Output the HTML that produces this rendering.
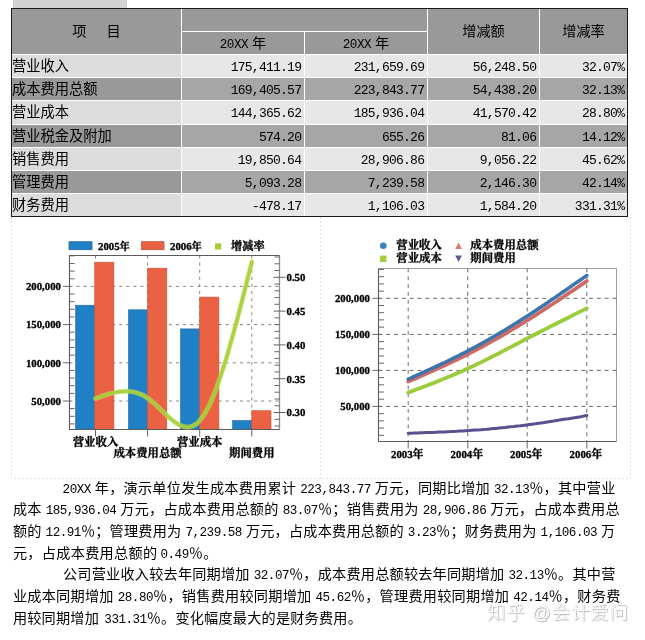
<!DOCTYPE html>
<html lang="zh"><head><meta charset="utf-8"><title>成本费用分析</title>
<style>
html,body{margin:0;padding:0;background:#fff;}
body{width:645px;height:640px;position:relative;overflow:hidden;font-family:"Liberation Mono","Noto Sans CJK SC",sans-serif;font-weight:400;color:#000;}
.abs{position:absolute;}
.c{position:absolute;box-sizing:border-box;white-space:nowrap;overflow:hidden;}
.lab{font-size:14.25px;line-height:22px;padding-left:0;padding-top:1px;text-align:left;}
.num{font-size:13px;letter-spacing:-0.75px;line-height:22px;text-align:right;padding-right:2.8px;padding-top:2px;}
.hd{font-size:14.2px;text-align:center;}
.p{position:absolute;font-size:14.15px;line-height:20px;height:20px;white-space:nowrap;}
.p .n{font-size:12.6px;}
.sp{display:inline-block;height:1px;}
svg text{font-family:"Liberation Serif","Noto Serif CJK SC",serif;font-weight:bold;fill:#000;stroke:#000;stroke-width:0.32px;}
</style></head><body>

<div class="abs" style="left:13px;top:0;width:114px;height:8px;background:#d3d3d3"></div>
<div class="abs" style="left:11px;top:8px;width:617px;height:209px;background:#1a1a1a"></div>
<div class="abs" style="left:12px;top:9px;width:615px;height:207px;background:#fff"></div>
<div class="c hd" style="left:12px;top:9px;width:169px;height:45px;background:#999999;line-height:46px">项<span style="display:inline-block;width:20px"></span>目</div>
<div class="c" style="left:182px;top:9px;width:245px;height:22px;background:#999999"></div>
<div class="c hd" style="left:182px;top:32px;width:122px;height:22px;background:#999999;line-height:24px"><span style="font-size:12.6px;letter-spacing:-0.45px">20XX</span><span class="sp" style="width:4px"></span>年</div>
<div class="c hd" style="left:305px;top:32px;width:122px;height:22px;background:#999999;line-height:24px"><span style="font-size:12.6px;letter-spacing:-0.45px">20XX</span><span class="sp" style="width:4px"></span>年</div>
<div class="c hd" style="left:428px;top:9px;width:111px;height:45px;background:#999999;line-height:47px">增减额</div>
<div class="c hd" style="left:540px;top:9px;width:87px;height:45px;background:#999999;line-height:47px">增减率</div>
<div class="c lab" style="left:12px;top:55px;width:169px;height:22px;background:#dcdcdc">营业收入</div>
<div class="c num" style="left:182px;top:55px;width:122px;height:22px;background:#e7e7e7">175,411.19</div>
<div class="c num" style="left:305px;top:55px;width:122px;height:22px;background:#e7e7e7">231,659.69</div>
<div class="c num" style="left:428px;top:55px;width:111px;height:22px;background:#e7e7e7">56,248.50</div>
<div class="c num" style="left:540px;top:55px;width:87px;height:22px;background:#e7e7e7">32.07%</div>
<div class="c lab" style="left:12px;top:78px;width:169px;height:22px;background:#999999">成本费用总额</div>
<div class="c num" style="left:182px;top:78px;width:122px;height:22px;background:#a6a6a6">169,405.57</div>
<div class="c num" style="left:305px;top:78px;width:122px;height:22px;background:#a6a6a6">223,843.77</div>
<div class="c num" style="left:428px;top:78px;width:111px;height:22px;background:#a6a6a6">54,438.20</div>
<div class="c num" style="left:540px;top:78px;width:87px;height:22px;background:#a6a6a6">32.13%</div>
<div class="c lab" style="left:12px;top:101px;width:169px;height:23px;background:#dcdcdc">营业成本</div>
<div class="c num" style="left:182px;top:101px;width:122px;height:23px;background:#e7e7e7">144,365.62</div>
<div class="c num" style="left:305px;top:101px;width:122px;height:23px;background:#e7e7e7">185,936.04</div>
<div class="c num" style="left:428px;top:101px;width:111px;height:23px;background:#e7e7e7">41,570.42</div>
<div class="c num" style="left:540px;top:101px;width:87px;height:23px;background:#e7e7e7">28.80%</div>
<div class="c lab" style="left:12px;top:125px;width:169px;height:22px;background:#999999">营业税金及附加</div>
<div class="c num" style="left:182px;top:125px;width:122px;height:22px;background:#a6a6a6">574.20</div>
<div class="c num" style="left:305px;top:125px;width:122px;height:22px;background:#a6a6a6">655.26</div>
<div class="c num" style="left:428px;top:125px;width:111px;height:22px;background:#a6a6a6">81.06</div>
<div class="c num" style="left:540px;top:125px;width:87px;height:22px;background:#a6a6a6">14.12%</div>
<div class="c lab" style="left:12px;top:148px;width:169px;height:22px;background:#dcdcdc">销售费用</div>
<div class="c num" style="left:182px;top:148px;width:122px;height:22px;background:#e7e7e7">19,850.64</div>
<div class="c num" style="left:305px;top:148px;width:122px;height:22px;background:#e7e7e7">28,906.86</div>
<div class="c num" style="left:428px;top:148px;width:111px;height:22px;background:#e7e7e7">9,056.22</div>
<div class="c num" style="left:540px;top:148px;width:87px;height:22px;background:#e7e7e7">45.62%</div>
<div class="c lab" style="left:12px;top:171px;width:169px;height:22px;background:#999999">管理费用</div>
<div class="c num" style="left:182px;top:171px;width:122px;height:22px;background:#a6a6a6">5,093.28</div>
<div class="c num" style="left:305px;top:171px;width:122px;height:22px;background:#a6a6a6">7,239.58</div>
<div class="c num" style="left:428px;top:171px;width:111px;height:22px;background:#a6a6a6">2,146.30</div>
<div class="c num" style="left:540px;top:171px;width:87px;height:22px;background:#a6a6a6">42.14%</div>
<div class="c lab" style="left:12px;top:194px;width:169px;height:22px;background:#dcdcdc">财务费用</div>
<div class="c num" style="left:182px;top:194px;width:122px;height:22px;background:#e7e7e7">-478.17</div>
<div class="c num" style="left:305px;top:194px;width:122px;height:22px;background:#e7e7e7">1,106.03</div>
<div class="c num" style="left:428px;top:194px;width:111px;height:22px;background:#e7e7e7">1,584.20</div>
<div class="c num" style="left:540px;top:194px;width:87px;height:22px;background:#e7e7e7">331.31%</div>
<svg class="abs" style="left:0;top:217px" width="645" height="265" viewBox="0 217 645 265">
<g fill="none" stroke="#e2e2e2" stroke-width="1" stroke-dasharray="2 2">
<path d="M11.5 217V478.5H630.5V217M320.5 217V478.5"/>
</g>
<g stroke="#858585" stroke-width="1" stroke-dasharray="3 4.1" fill="none">
<path d="M69.5 401.0H279.5"/>
<path d="M69.5 362.8H279.5"/>
<path d="M69.5 324.6H279.5"/>
<path d="M69.5 286.4H279.5"/>
<path d="M95.5 255.5V429.5"/>
<path d="M147.6 255.5V429.5"/>
<path d="M199.7 255.5V429.5"/>
<path d="M251.8 255.5V429.5"/>
</g>
<rect x="75.5" y="305.2" width="19.2" height="124.3" fill="#2080c6" stroke="#2a6aa0" stroke-width="0.6"/>
<rect x="94.7" y="262.2" width="19.2" height="167.3" fill="#ea6144" stroke="#c9523a" stroke-width="0.6"/>
<rect x="128.4" y="309.8" width="19.2" height="119.7" fill="#2080c6" stroke="#2a6aa0" stroke-width="0.6"/>
<rect x="147.6" y="268.2" width="19.2" height="161.3" fill="#ea6144" stroke="#c9523a" stroke-width="0.6"/>
<rect x="180.5" y="328.9" width="19.2" height="100.6" fill="#2080c6" stroke="#2a6aa0" stroke-width="0.6"/>
<rect x="199.7" y="297.1" width="19.2" height="132.4" fill="#ea6144" stroke="#c9523a" stroke-width="0.6"/>
<rect x="232.6" y="420.5" width="19.2" height="9.0" fill="#2080c6" stroke="#2a6aa0" stroke-width="0.6"/>
<rect x="251.8" y="410.7" width="19.2" height="18.8" fill="#ea6144" stroke="#c9523a" stroke-width="0.6"/>
<path d="M279.5 255.5V429.5" stroke="#8c8c8c" stroke-width="1.3" fill="none"/>
<path d="M279.5 255.5H69.5V429.5H279.5" stroke="#5a5a5a" stroke-width="1.1" fill="none"/>
<g stroke="#666" stroke-width="1" fill="none">
<path d="M69.5 423.9H74.5"/>
<path d="M69.5 416.3H74.5"/>
<path d="M69.5 408.6H74.5"/>
<path d="M63.0 401.0H70.5"/>
<path d="M69.5 393.4H74.5"/>
<path d="M69.5 385.7H74.5"/>
<path d="M69.5 378.1H74.5"/>
<path d="M69.5 370.4H74.5"/>
<path d="M63.0 362.8H70.5"/>
<path d="M69.5 355.2H74.5"/>
<path d="M69.5 347.5H74.5"/>
<path d="M69.5 339.9H74.5"/>
<path d="M69.5 332.2H74.5"/>
<path d="M63.0 324.6H70.5"/>
<path d="M69.5 317.0H74.5"/>
<path d="M69.5 309.3H74.5"/>
<path d="M69.5 301.7H74.5"/>
<path d="M69.5 294.0H74.5"/>
<path d="M63.0 286.4H70.5"/>
<path d="M69.5 278.8H74.5"/>
<path d="M69.5 271.1H74.5"/>
<path d="M69.5 263.5H74.5"/>
<path d="M69.5 255.8H74.5"/>
<path d="M274.5 426.0H279.5"/>
<path d="M274.5 419.3H279.5"/>
<path d="M273.5 412.5H285.5"/>
<path d="M274.5 405.7H279.5"/>
<path d="M274.5 399.0H279.5"/>
<path d="M274.5 392.2H279.5"/>
<path d="M274.5 385.5H279.5"/>
<path d="M273.5 378.7H285.5"/>
<path d="M274.5 371.9H279.5"/>
<path d="M274.5 365.2H279.5"/>
<path d="M274.5 358.4H279.5"/>
<path d="M274.5 351.7H279.5"/>
<path d="M273.5 344.9H285.5"/>
<path d="M274.5 338.1H279.5"/>
<path d="M274.5 331.4H279.5"/>
<path d="M274.5 324.6H279.5"/>
<path d="M274.5 317.9H279.5"/>
<path d="M273.5 311.1H285.5"/>
<path d="M274.5 304.3H279.5"/>
<path d="M274.5 297.6H279.5"/>
<path d="M274.5 290.8H279.5"/>
<path d="M274.5 284.1H279.5"/>
<path d="M273.5 277.3H285.5"/>
<path d="M274.5 270.5H279.5"/>
<path d="M274.5 263.8H279.5"/>
<path d="M274.5 257.0H279.5"/>
<path d="M95.5 429.5V436.5"/>
<path d="M147.6 429.5V436.5"/>
<path d="M199.7 429.5V436.5"/>
<path d="M251.8 429.5V436.5"/>
</g>
<polyline points="95.5,398.5 97.5,397.8 99.5,397.1 101.4,396.4 103.4,395.7 105.4,395.1 107.4,394.5 109.3,393.9 111.3,393.4 113.3,392.9 115.3,392.4 117.3,392.1 119.2,391.8 121.2,391.5 123.2,391.4 125.2,391.3 127.2,391.3 129.1,391.4 131.1,391.6 133.1,391.9 135.1,392.4 137.0,392.9 139.0,393.6 141.0,394.4 143.0,395.3 145.0,396.4 146.9,397.7 148.9,399.0 150.9,400.6 152.9,402.2 154.9,404.0 156.8,405.8 158.8,407.7 160.8,409.6 162.8,411.5 164.7,413.4 166.7,415.3 168.7,417.1 170.7,418.8 172.7,420.5 174.6,422.0 176.6,423.3 178.6,424.5 180.6,425.5 182.6,426.2 184.5,426.8 186.5,427.1 188.5,427.1 190.5,426.7 192.4,426.1 194.4,425.1 196.4,423.8 198.4,422.0 200.4,419.8 202.3,417.3 204.3,414.3 206.3,410.9 208.3,407.1 210.3,403.0 212.2,398.5 214.2,393.7 216.2,388.6 218.2,383.2 220.1,377.5 222.1,371.5 224.1,365.3 226.1,358.9 228.1,352.3 230.0,345.4 232.0,338.4 234.0,331.3 236.0,323.9 238.0,316.5 239.9,308.9 241.9,301.3 243.9,293.5 245.9,285.7 247.8,277.8 249.8,269.9 251.8,262.0" fill="none" stroke="#c5e05a" stroke-width="5" stroke-linecap="round" stroke-linejoin="round" opacity="0.6"/>
<polyline points="95.5,398.5 97.5,397.8 99.5,397.1 101.4,396.4 103.4,395.7 105.4,395.1 107.4,394.5 109.3,393.9 111.3,393.4 113.3,392.9 115.3,392.4 117.3,392.1 119.2,391.8 121.2,391.5 123.2,391.4 125.2,391.3 127.2,391.3 129.1,391.4 131.1,391.6 133.1,391.9 135.1,392.4 137.0,392.9 139.0,393.6 141.0,394.4 143.0,395.3 145.0,396.4 146.9,397.7 148.9,399.0 150.9,400.6 152.9,402.2 154.9,404.0 156.8,405.8 158.8,407.7 160.8,409.6 162.8,411.5 164.7,413.4 166.7,415.3 168.7,417.1 170.7,418.8 172.7,420.5 174.6,422.0 176.6,423.3 178.6,424.5 180.6,425.5 182.6,426.2 184.5,426.8 186.5,427.1 188.5,427.1 190.5,426.7 192.4,426.1 194.4,425.1 196.4,423.8 198.4,422.0 200.4,419.8 202.3,417.3 204.3,414.3 206.3,410.9 208.3,407.1 210.3,403.0 212.2,398.5 214.2,393.7 216.2,388.6 218.2,383.2 220.1,377.5 222.1,371.5 224.1,365.3 226.1,358.9 228.1,352.3 230.0,345.4 232.0,338.4 234.0,331.3 236.0,323.9 238.0,316.5 239.9,308.9 241.9,301.3 243.9,293.5 245.9,285.7 247.8,277.8 249.8,269.9 251.8,262.0" fill="none" stroke="#a4ce39" stroke-width="3.5" stroke-linecap="round" stroke-linejoin="round" opacity="0.88"/>
<g font-size="10.8">
<text x="61" y="404.8" text-anchor="end">50,000</text>
<text x="61" y="366.6" text-anchor="end">100,000</text>
<text x="61" y="328.4" text-anchor="end">150,000</text>
<text x="61" y="290.2" text-anchor="end">200,000</text>
<text x="286.5" y="416.3">0.30</text>
<text x="286.5" y="382.5">0.35</text>
<text x="286.5" y="348.7">0.40</text>
<text x="286.5" y="314.9">0.45</text>
<text x="286.5" y="281.1">0.50</text>
</g>
<g font-size="11.4" text-anchor="middle">
<text x="95.5" y="445.6">营业收入</text>
<text x="147.6" y="457.4">成本费用总额</text>
<text x="199.7" y="445.6">营业成本</text>
<text x="251.8" y="457.4">期间费用</text>
</g>
<rect x="69" y="241.7" width="23" height="8" fill="#2080c6" stroke="#2c6696" stroke-width="0.8"/>
<text x="98" y="249.6" font-size="10.8">2005<tspan font-size="10.2">年</tspan></text>
<rect x="141.5" y="241.7" width="22.5" height="8" fill="#ea6144" stroke="#b9533c" stroke-width="0.8"/>
<text x="170" y="249.6" font-size="10.8">2006<tspan font-size="10.2">年</tspan></text>
<rect x="215" y="243.3" width="6.2" height="6.2" fill="#a4ce39"/>
<text x="231" y="249.6" font-size="11.2">增减率</text>
<path d="M378.5 268.5H616.5V441.5" stroke="#9c9c9c" stroke-width="1" fill="none"/>
<g stroke="#6a6a6a" stroke-width="1" stroke-dasharray="3.9 3.9" fill="none">
<path d="M378.5 406.4H616.5"/>
<path d="M378.5 370.4H616.5"/>
<path d="M378.5 334.4H616.5"/>
<path d="M378.5 298.3H616.5"/>
<path d="M408.2 268.5V441.5"/>
<path d="M467.8 268.5V441.5"/>
<path d="M527.2 268.5V441.5"/>
<path d="M586.8 268.5V441.5"/>
</g>
<path d="M378.5 268.5V441.5H616.5" stroke="#5a5a5a" stroke-width="1.1" fill="none"/>
<g stroke="#666" stroke-width="1" fill="none">
<path d="M378.5 435.3H384.0"/>
<path d="M378.5 428.1H384.0"/>
<path d="M378.5 420.9H384.0"/>
<path d="M378.5 413.7H384.0"/>
<path d="M372.5 406.4H380.5"/>
<path d="M378.5 399.2H384.0"/>
<path d="M378.5 392.0H384.0"/>
<path d="M378.5 384.8H384.0"/>
<path d="M378.5 377.6H384.0"/>
<path d="M372.5 370.4H380.5"/>
<path d="M378.5 363.2H384.0"/>
<path d="M378.5 356.0H384.0"/>
<path d="M378.5 348.8H384.0"/>
<path d="M378.5 341.6H384.0"/>
<path d="M372.5 334.4H380.5"/>
<path d="M378.5 327.1H384.0"/>
<path d="M378.5 319.9H384.0"/>
<path d="M378.5 312.7H384.0"/>
<path d="M378.5 305.5H384.0"/>
<path d="M372.5 298.3H380.5"/>
<path d="M378.5 291.1H384.0"/>
<path d="M378.5 283.9H384.0"/>
<path d="M378.5 276.7H384.0"/>
<path d="M378.5 269.5H384.0"/>
<path d="M408.2 441.5V448.5"/>
<path d="M467.8 441.5V448.5"/>
<path d="M527.2 441.5V448.5"/>
<path d="M586.8 441.5V448.5"/>
</g>
<polyline points="408.2,392.5 411.3,391.4 414.3,390.3 417.3,389.1 420.4,388.0 423.4,386.8 426.4,385.7 429.4,384.5 432.5,383.4 435.5,382.2 438.5,381.0 441.5,379.8 444.6,378.6 447.6,377.3 450.6,376.1 453.6,374.8 456.7,373.5 459.7,372.2 462.7,370.9 465.7,369.5 468.8,368.1 471.8,366.7 474.8,365.3 477.8,363.8 480.9,362.4 483.9,360.9 486.9,359.4 489.9,357.8 493.0,356.3 496.0,354.7 499.0,353.2 502.0,351.6 505.1,350.0 508.1,348.4 511.1,346.9 514.1,345.3 517.2,343.7 520.2,342.1 523.2,340.5 526.2,338.9 529.3,337.4 532.3,335.8 535.3,334.2 538.3,332.7 541.4,331.1 544.4,329.6 547.4,328.1 550.4,326.5 553.5,325.0 556.5,323.5 559.5,322.0 562.5,320.5 565.6,319.0 568.6,317.5 571.6,315.9 574.6,314.4 577.7,312.9 580.7,311.4 583.7,309.9 586.8,308.4" fill="none" stroke="#9ccb3b" stroke-width="3.8" stroke-linecap="round" stroke-linejoin="round"/>
<polyline points="408.2,433.3 411.3,433.2 414.3,433.1 417.3,433.0 420.4,432.8 423.4,432.7 426.4,432.6 429.4,432.5 432.5,432.4 435.5,432.3 438.5,432.1 441.5,432.0 444.6,431.9 447.6,431.7 450.6,431.6 453.6,431.4 456.7,431.3 459.7,431.1 462.7,430.9 465.7,430.7 468.8,430.5 471.8,430.3 474.8,430.1 477.8,429.9 480.9,429.7 483.9,429.4 486.9,429.2 489.9,428.9 493.0,428.6 496.0,428.4 499.0,428.1 502.0,427.8 505.1,427.5 508.1,427.1 511.1,426.8 514.1,426.5 517.2,426.1 520.2,425.8 523.2,425.4 526.2,425.0 529.3,424.6 532.3,424.2 535.3,423.8 538.3,423.3 541.4,422.9 544.4,422.5 547.4,422.0 550.4,421.5 553.5,421.1 556.5,420.6 559.5,420.1 562.5,419.6 565.6,419.1 568.6,418.7 571.6,418.2 574.6,417.7 577.7,417.2 580.7,416.7 583.7,416.1 586.8,415.6" fill="none" stroke="#5d4e8f" stroke-width="3.0" stroke-linecap="round" stroke-linejoin="round"/>
<polyline points="408.2,381.6 411.3,380.3 414.3,379.0 417.3,377.7 420.4,376.3 423.4,375.0 426.4,373.6 429.4,372.3 432.5,370.9 435.5,369.6 438.5,368.2 441.5,366.8 444.6,365.4 447.6,364.0 450.6,362.6 453.6,361.1 456.7,359.7 459.7,358.2 462.7,356.7 465.7,355.2 468.8,353.7 471.8,352.1 474.8,350.5 477.8,349.0 480.9,347.3 483.9,345.7 486.9,344.1 489.9,342.4 493.0,340.7 496.0,339.0 499.0,337.3 502.0,335.5 505.1,333.8 508.1,332.0 511.1,330.2 514.1,328.4 517.2,326.6 520.2,324.7 523.2,322.9 526.2,321.0 529.3,319.1 532.3,317.2 535.3,315.3 538.3,313.3 541.4,311.4 544.4,309.4 547.4,307.4 550.4,305.5 553.5,303.5 556.5,301.5 559.5,299.4 562.5,297.4 565.6,295.4 568.6,293.4 571.6,291.3 574.6,289.3 577.7,287.2 580.7,285.2 583.7,283.2 586.8,281.1" fill="none" stroke="#cc6b66" stroke-width="3.8" stroke-linecap="round" stroke-linejoin="round"/>
<polyline points="408.2,379.1 411.3,377.8 414.3,376.4 417.3,375.0 420.4,373.7 423.4,372.3 426.4,370.9 429.4,369.5 432.5,368.1 435.5,366.7 438.5,365.3 441.5,363.9 444.6,362.5 447.6,361.0 450.6,359.6 453.6,358.1 456.7,356.6 459.7,355.1 462.7,353.5 465.7,352.0 468.8,350.4 471.8,348.8 474.8,347.2 477.8,345.6 480.9,343.9 483.9,342.2 486.9,340.5 489.9,338.8 493.0,337.1 496.0,335.3 499.0,333.5 502.0,331.7 505.1,329.9 508.1,328.1 511.1,326.2 514.1,324.3 517.2,322.5 520.2,320.5 523.2,318.6 526.2,316.7 529.3,314.7 532.3,312.7 535.3,310.8 538.3,308.8 541.4,306.7 544.4,304.7 547.4,302.7 550.4,300.6 553.5,298.6 556.5,296.5 559.5,294.4 562.5,292.3 565.6,290.2 568.6,288.1 571.6,286.0 574.6,283.9 577.7,281.8 580.7,279.7 583.7,277.6 586.8,275.5" fill="none" stroke="#3d74ab" stroke-width="3.5" stroke-linecap="round" stroke-linejoin="round"/>
<g font-size="10.8">
<text x="370" y="410.2" text-anchor="end">50,000</text>
<text x="370" y="374.2" text-anchor="end">100,000</text>
<text x="370" y="338.2" text-anchor="end">150,000</text>
<text x="370" y="302.1" text-anchor="end">200,000</text>
<text x="407.2" y="457.6" text-anchor="middle">2003年</text>
<text x="466.8" y="457.6" text-anchor="middle">2004年</text>
<text x="526.2" y="457.6" text-anchor="middle">2005年</text>
<text x="585.8" y="457.6" text-anchor="middle">2006年</text>
</g>
<circle cx="383.3" cy="245.8" r="3.3" fill="#3a82c4"/>
<rect x="380" y="255.6" width="6.4" height="6.4" fill="#a4ce39"/>
<path d="M458.6 242.6L462 249H455.2Z" fill="#dd7a70"/>
<path d="M458.6 262L462 255.6H455.2Z" fill="#655c94"/>
<g font-size="11.4">
<text x="396.3" y="249.4">营业收入</text>
<text x="396.3" y="262">营业成本</text>
<text x="470.3" y="249.4">成本费用总额</text>
<text x="470.3" y="262">期间费用</text>
</g>
</svg>
<div class="p" id="p0" style="left:62.6px;top:479.3px;letter-spacing:0.245px"><span class="n" style="letter-spacing:-0.5px">20XX</span><span class="sp" style="width:4px"></span>年，演示单位发生成本费用累计<span class="sp" style="width:4px"></span><span class="n" style="letter-spacing:-0.5px">223,843.77</span><span class="sp" style="width:4px"></span>万元，同期比增加<span class="sp" style="width:4px"></span><span class="n" style="letter-spacing:-0.5px">32.13</span>％，其中营业</div>
<div class="p" id="p1" style="left:12.9px;top:500.4px;letter-spacing:0.256px">成本<span class="sp" style="width:4px"></span><span class="n" style="letter-spacing:-0.5px">185,936.04</span><span class="sp" style="width:4px"></span>万元，占成本费用总额的<span class="sp" style="width:4px"></span><span class="n" style="letter-spacing:-0.5px">83.07</span>％；销售费用为<span class="sp" style="width:4px"></span><span class="n" style="letter-spacing:-0.5px">28,906.86</span><span class="sp" style="width:4px"></span>万元，占成本费用总</div>
<div class="p" id="p2" style="left:12.9px;top:521.8px;letter-spacing:0.218px">额的<span class="sp" style="width:4px"></span><span class="n" style="letter-spacing:-0.5px">12.91</span>％；管理费用为<span class="sp" style="width:4px"></span><span class="n" style="letter-spacing:-0.5px">7,239.58</span><span class="sp" style="width:4px"></span>万元，占成本费用总额的<span class="sp" style="width:4px"></span><span class="n" style="letter-spacing:-0.5px">3.23</span>％；财务费用为<span class="sp" style="width:4px"></span><span class="n" style="letter-spacing:-0.5px">1,106.03</span><span class="sp" style="width:4px"></span>万</div>
<div class="p" id="p3" style="left:12.9px;top:543.5px;letter-spacing:0.315px">元，占成本费用总额的<span class="sp" style="width:3px"></span><span class="n" style="letter-spacing:-0.5px">0.49</span>％。</div>
<div class="p" id="p4" style="left:63.0px;top:565.4px;letter-spacing:0.220px">公司营业收入较去年同期增加<span class="sp" style="width:4px"></span><span class="n" style="letter-spacing:-0.5px">32.07</span>％，成本费用总额较去年同期增加<span class="sp" style="width:4px"></span><span class="n" style="letter-spacing:-0.5px">32.13</span>％。其中营</div>
<div class="p" id="p5" style="left:12.9px;top:586.7px;letter-spacing:0.263px">业成本同期增加<span class="sp" style="width:4px"></span><span class="n" style="letter-spacing:-0.5px">28.80</span>％，销售费用较同期增加<span class="sp" style="width:4px"></span><span class="n" style="letter-spacing:-0.5px">45.62</span>％，管理费用较同期增加<span class="sp" style="width:4px"></span><span class="n" style="letter-spacing:-0.5px">42.14</span>％，财务费</div>
<div class="p" id="p6" style="left:12.9px;top:608.5px;letter-spacing:0.214px">用较同期增加<span class="sp" style="width:5.3px"></span><span class="n" style="letter-spacing:-0.5px">331.31</span>％。变化幅度最大的是财务费用。</div>
<div class="abs" style="left:487px;top:600px;font-family:'Liberation Sans','Noto Sans CJK SC',sans-serif;font-size:18.3px;line-height:26px;font-weight:300;white-space:nowrap;color:#fff;text-shadow:1px 1px 1px #b0b0b0,0 0 1px #ccc;letter-spacing:1.1px">知乎 @会计爱问</div>
</body></html>
